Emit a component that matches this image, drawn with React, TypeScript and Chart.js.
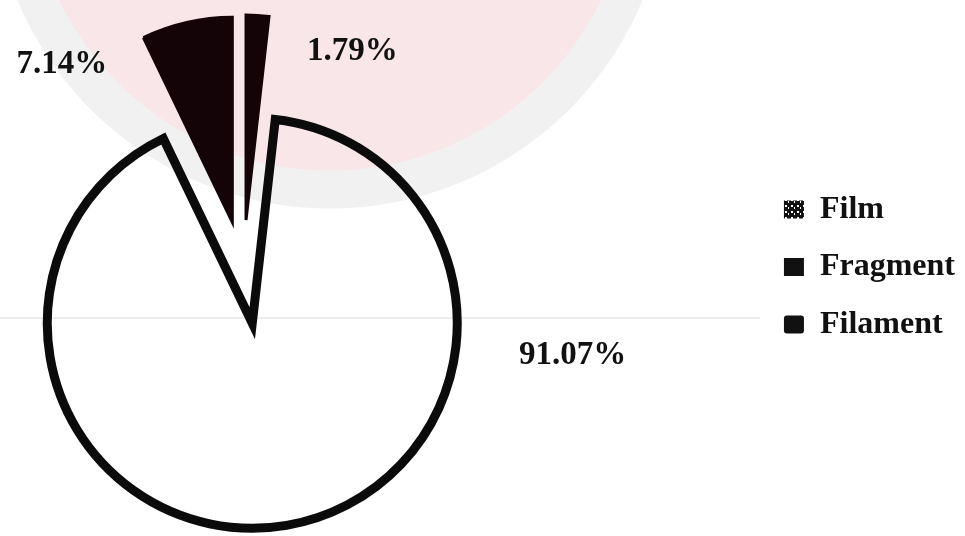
import { useEffect, useRef } from 'react';
import { Chart, registerables } from 'chart.js';

Chart.register(...registerables);

// ---- data ----
const categories = ['Film', 'Fragment', 'Filament'];
const percentages = [91.07, 7.14, 1.79];
const labelTexts = percentages.map((v) => v.toFixed(2) + '%');

// ---- styles ----
const sliceColors = ['rgba(255,255,255,0)', '#140307', '#140307'];
const sliceBorderColors = ['#0b0b0b', '#140307', '#140307'];
const sliceBorderWidths = [9, 3, 3];
const explodePx = [54, 49, 50];
// label placement, polar around each exploded slice centre (deg clockwise from top, px)
const labelAngles = [95.8, -47.3, 32.3];
const labelDistances = [322, 232, 199];

const SERIF = "'Liberation Serif', 'Times New Roman', serif";

// keep every exploded slice at the same radius and its true angular size
const explodePlugin = {
  id: 'explodeEqualRadius',
  afterDatasetUpdate(chart: any, args: any) {
    const meta = args.meta;
    const R = meta.controller.outerRadius;
    meta.data.forEach((el: any) => {
      const off = (el.options.offset || 0) / 4;
      const fix = 1 - Math.sin(Math.min(Math.PI, el.circumference || 0));
      const ro = off * fix;
      el.outerRadius = R - ro;
      const d = ro / (Math.PI * R);
      el.startAngle -= d / 2;
      el.endAngle += d / 2;
    });
  },
};

const pctLabelPlugin = {
  id: 'pctLabels',
  afterDatasetsDraw(chart: any) {
    const ctx = chart.ctx;
    const meta = chart.getDatasetMeta(0);
    ctx.save();
    ctx.font = `bold 33px ${SERIF}`;
    ctx.fillStyle = '#111111';
    ctx.textAlign = 'center';
    ctx.textBaseline = 'middle';
    meta.data.forEach((el: any, i: number) => {
      const mid = (el.startAngle + el.endAngle) / 2;
      const t = (el.options.offset || 0) / 4;
      const cx = el.x + Math.cos(mid) * t;
      const cy = el.y + Math.sin(mid) * t;
      const a = ((labelAngles[i] - 90) * Math.PI) / 180;
      ctx.fillText(labelTexts[i], cx + Math.cos(a) * labelDistances[i], cy + Math.sin(a) * labelDistances[i]);
    });
    ctx.restore();
  },
};

export default function App() {
  const canvasRef = useRef<HTMLCanvasElement | null>(null);

  useEffect(() => {
    const canvas = canvasRef.current;
    if (!canvas) return;
    const ctx = canvas.getContext('2d')!;

    const pc = document.createElement('canvas');
    pc.width = 6;
    pc.height = 6;
    const g = pc.getContext('2d')!;
    g.fillStyle = '#111';
    g.fillRect(0, 0, 6, 6);
    g.fillStyle = '#fff';
    g.fillRect(1, 1, 2, 2);
    g.fillRect(4, 3, 1, 2);
    const filmPattern = ctx.createPattern(pc, 'repeat');
    const legendFills = [filmPattern, '#111111', '#111111'];

    const total = percentages.reduce((s, v) => s + v, 0);
    const startRotation = (percentages[2] / total) * 360;

    const chart = new Chart(canvas, {
      type: 'pie',
      data: {
        labels: categories,
        datasets: [
          {
            data: percentages,
            backgroundColor: sliceColors,
            borderColor: sliceBorderColors,
            borderWidth: sliceBorderWidths,
            borderAlign: 'center',
            borderJoinStyle: 'miter',
            offset: explodePx.map((p) => p * 4),
            radius: 205,
          } as any,
        ],
      },
      options: {
        animation: false,
        responsive: true,
        maintainAspectRatio: false,
        rotation: startRotation,
        layout: { padding: { left: 0, right: 0, top: 4, bottom: 0 } },
        plugins: {
          tooltip: { enabled: false },
          legend: {
            position: 'right',
            align: 'start',
            title: { display: true, text: '', font: { size: 2, lineHeight: 1 }, padding: { top: 162, bottom: 0 } },
            labels: {
              font: { family: SERIF, size: 32, weight: 'bold' },
              color: '#111111',
              boxWidth: 20,
              boxHeight: 18,
              padding: 25.5,
              useBorderRadius: true,
              generateLabels: () =>
                categories.map((c, i) => ({
                  text: c,
                  fillStyle: legendFills[i] as any,
                  strokeStyle: '#111111',
                  lineWidth: 0,
                  hidden: false,
                  index: i,
                  datasetIndex: 0,
                  borderRadius: i === 2 ? 3 : 0,
                  fontColor: '#111111',
                })),
            },
          },
        },
      } as any,
      plugins: [explodePlugin, pctLabelPlugin],
    });

    return () => chart.destroy();
  }, []);

  return (
    <div
      style={{
        position: 'fixed',
        left: 0,
        top: 0,
        width: 965,
        height: 536,
        overflow: 'hidden',
        background:
          'linear-gradient(#ededed, #ededed) 0px 317px / 760px 2px no-repeat, radial-gradient(circle at 330px -130px, #f8e6e9 0px, #f8e6e9 300px, #f1f1f1 301px, #f1f1f1 338px, #ffffff 339px)',
      }}
    >
      <div style={{ position: 'absolute', left: -272, top: 0, width: 1237, height: 536 }}>
        <canvas ref={canvasRef} />
      </div>
    </div>
  );
}
